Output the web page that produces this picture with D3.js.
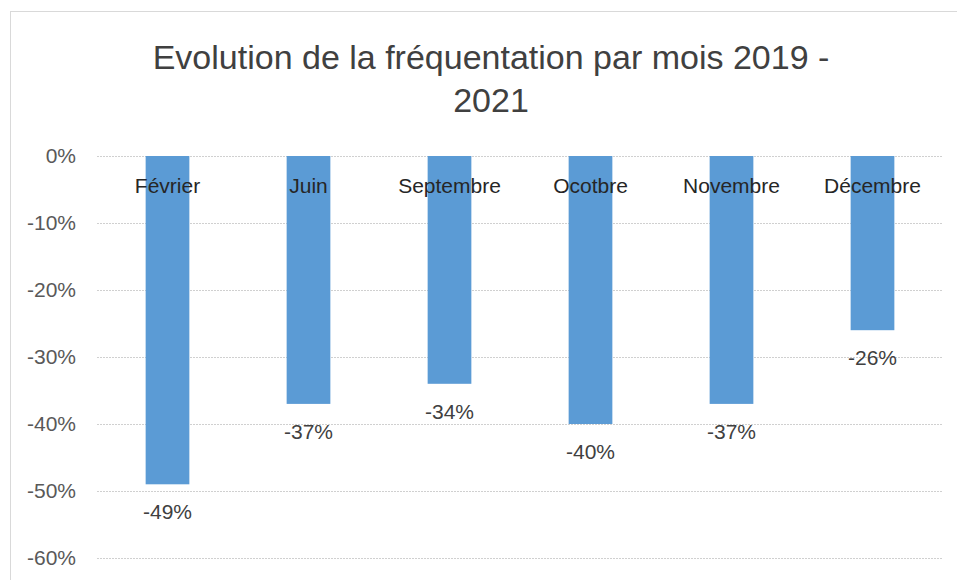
<!DOCTYPE html>
<html>
<head>
<meta charset="utf-8">
<script src="https://cdn.jsdelivr.net/npm/d3@7"></script>
<style>
  body { margin: 0; background: #fff; }
  svg text { font-family: "Liberation Sans", Arial, sans-serif; }
</style>
</head>
<body>
<div id="chart-area"></div>
<script>
// data
const months = ["Février", "Juin", "Septembre", "Ocotbre", "Novembre", "Décembre"];
const evolution = [-0.49, -0.37, -0.34, -0.40, -0.37, -0.26];
const yTicks = [0, -0.1, -0.2, -0.3, -0.4, -0.5, -0.6];
const titleLines = ["Evolution de la fréquentation par mois 2019 -", "2021"];

const W = 957, H = 580;
const margin = { left: 97, right: 14, top: 156, bottom: 22 };

const svg = d3.select("#chart-area")
    .append("svg")
    .attr("width", W)
    .attr("height", H);

// chart frame
svg.append("rect")
    .attr("x", 10.5).attr("y", 11.5)
    .attr("width", 980).attr("height", 620)
    .attr("fill", "#fff")
    .attr("stroke", "#d9d9d9");

// title
svg.append("g").selectAll("text")
    .data(titleLines)
    .enter().append("text")
    .attr("x", 491)
    .attr("y", (d, i) => 69 + i * 43)
    .attr("text-anchor", "middle")
    .attr("font-size", 34)
    .attr("fill", "#404040")
    .text(d => d);

const x = d3.scaleBand()
    .domain(months)
    .range([margin.left, W - margin.right])
    .paddingInner(0.69)
    .paddingOuter(0.345);

const y = d3.scaleLinear()
    .domain([-0.6, 0])
    .range([558, margin.top]);

const pct = d => Math.round(d * 100) + "%";

// y axis + grid
const yAxis = svg.append("g")
    .attr("transform", `translate(${margin.left},0)`)
    .call(d3.axisLeft(y).tickValues(yTicks).tickSize(-(W - margin.right - margin.left)).tickPadding(21).tickFormat(pct));
yAxis.select(".domain").remove();
yAxis.selectAll(".tick line")
    .attr("stroke", "#d0d0d0")
    .attr("stroke-dasharray", "2,1");
yAxis.selectAll(".tick text")
    .attr("font-size", 21)
    .attr("fill", "#595959");

// bars
svg.append("g").selectAll("rect")
    .data(evolution)
    .enter().append("rect")
    .attr("x", (d, i) => x(months[i]))
    .attr("y", y(0))
    .attr("width", x.bandwidth())
    .attr("height", d => y(d) - y(0))
    .attr("fill", "#5b9bd5");

// category labels
const xAxis = svg.append("g")
    .attr("transform", `translate(0,${y(0)})`)
    .call(d3.axisBottom(x).tickSize(0).tickPadding(22));
xAxis.select(".domain").remove();
xAxis.selectAll(".tick text")
    .attr("font-size", 21)
    .attr("fill", "#262626");

// data labels
svg.append("g").selectAll("text")
    .data(evolution)
    .enter().append("text")
    .attr("x", (d, i) => x(months[i]) + x.bandwidth() / 2)
    .attr("y", d => y(d) + 35)
    .attr("text-anchor", "middle")
    .attr("font-size", 21)
    .attr("fill", "#404040")
    .text(pct);
</script>
</body>
</html>
